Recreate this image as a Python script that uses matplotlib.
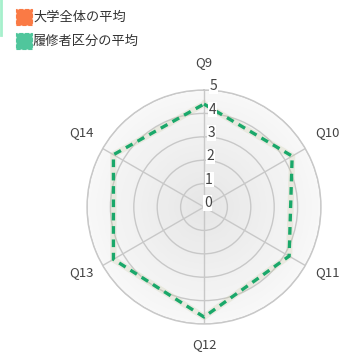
import numpy as np
import matplotlib.pyplot as plt
import matplotlib.patches as mpatches
from matplotlib.colors import LinearSegmentedColormap

plt.rcParams['font.family'] = ['Noto Sans CJK JP', 'DejaVu Sans']

labels = ['Q9', 'Q10', 'Q11', 'Q12', 'Q13', 'Q14']
rishu = [4.4, 4.35, 4.2, 4.7, 4.47, 4.47]
ticks = [0, 1, 2, 3, 4, 5]
legend_names = ['大学全体の平均', '履修者区分の平均']
legend_cols = ['#fa7a45', '#50c69c']
# pixel offsets of the point labels from the outer ring
lab_off = [(0, 28), (22, 16), (22, -7), (0, -20), (-21, -7), (-21, 16)]

W, H = 349, 354
n = len(labels)
ang = np.linspace(0, 2 * np.pi, n, endpoint=False)
ang_c = np.append(ang, ang[0])
vals = np.append(rishu, rishu[0])

fig = plt.figure(figsize=(W / 100, H / 100), dpi=100)
ax = fig.add_axes([0.2493, 0.0847, 0.6705, 0.661], projection='polar')
ax.set_theta_zero_location('N')
ax.set_theta_direction(-1)
ax.set_ylim(0, 5)

# radial background gradient, darker in the middle
bg = LinearSegmentedColormap.from_list('bg', ['#e6e6e6', '#f8f8f8'])
th = np.linspace(0, 2 * np.pi, 73)
rr = np.linspace(0, 5, 40)
T, R = np.meshgrid(th, rr)
ax.pcolormesh(T, R, R[:-1, :-1], cmap=bg, vmin=0, vmax=5,
              shading='flat', zorder=0, rasterized=True)

ax.set_yticks(ticks[1:])
ax.set_yticklabels([])
ax.set_xticks(ang)
ax.set_xticklabels([])
ax.grid(color='#c8c8c8', lw=1)
ax.set_axisbelow(False)
ax.spines['polar'].set_color('#c8c8c8')
ax.spines['polar'].set_linewidth(1)

for a, lab, off in zip(ang, labels, lab_off):
    ax.annotate(lab, xy=(a, 5), xytext=off, textcoords='offset pixels',
                ha='center', va='center', fontsize=9.5, color='#444444',
                annotation_clip=False)

for t in ticks:
    ax.text(0.045 if t > 0 else 0.0, t + 0.17, str(t), ha='left', va='center',
            fontsize=10, color='#444444', zorder=5,
            bbox=dict(boxstyle='square,pad=0.05', fc='white', ec='none'))

# faint glow under the dashed line
ax.plot(ang_c, vals, color='#c8c8a0', lw=4.5, alpha=0.25, zorder=3)
ax.plot(ang_c, vals, color='#1aa86a', lw=2.4, dashes=(2.3, 1.7), zorder=4)

# legend drawn by hand in pixel positions
for i, (name, c) in enumerate(zip(legend_names, legend_cols)):
    y0 = 9 + i * 24
    fig.add_artist(mpatches.Rectangle((16 / W, 1 - (y0 + 16) / H), 16 / W, 16 / H,
                                      facecolor=c, edgecolor=c, ls='--', lw=0.8,
                                      transform=fig.transFigure))
    fig.text(33 / W, 1 - (y0 + 8) / H, name, ha='left', va='center',
             fontsize=9.5, color='#333333')
fig.add_artist(plt.Line2D([1 / W, 1 / W], [1 - 35 / H, 1.0], color='#a6f0cc', lw=2,
                          transform=fig.transFigure))

fig.savefig('out.png', dpi=100)
